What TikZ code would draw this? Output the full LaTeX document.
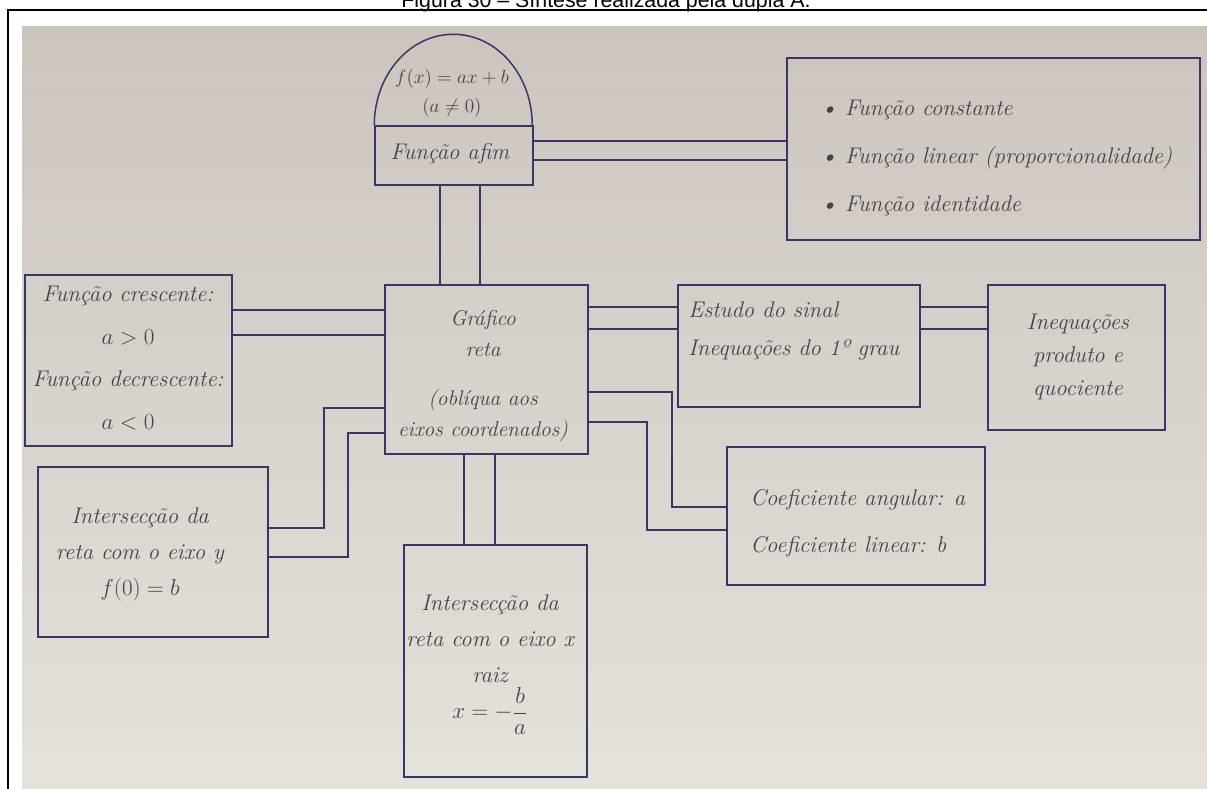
\documentclass[tikz,border=0pt]{standalone}
\usepackage{fontspec}
\newfontfamily\captionfont{Liberation Sans}
\usetikzlibrary{calc}
\definecolor{ink}{RGB}{58,52,104}
\definecolor{pencil}{RGB}{70,64,80}
\definecolor{paper_top}{RGB}{203,197,190}
\definecolor{paper_bottom}{RGB}{229,226,219}
\tikzset{
  box/.style={draw=ink,line width=1.1pt,rectangle,inner sep=0pt},
  sized/.style 2 args={minimum width=#1*0.75pt,minimum height=#2*0.75pt},
  link/.style={draw=ink,line width=1.1pt},
  hand/.style={text=pencil,inner sep=0pt,align=center,font=\fontsize{17}{#1}\selectfont\itshape},
  frame/.style={draw=black,line width=1.5pt},
}

\begin{document}
\begin{tikzpicture}[x=0.75pt,y=-0.75pt]
  \useasboundingbox (0,0) rectangle (1207,789);
  % photo of the sheet
  \shade[top color=paper_top,bottom color=paper_bottom] (22,26) rectangle (1207,789);
  \draw[frame] (8,789) -- (8,10) -- (1207,10);
  \node[anchor=base,inner sep=0pt,font=\captionfont\fontsize{16}{18}\selectfont] (caption) at (606,7) {Figura 30 – Síntese realizada pela dupla A.};

  % boxes
  \node[box,sized={158}{59}] (box_afim) at (454,155.5) {};
  \node[box,sized={413}{182}] (box_tipos) at (993.5,149) {};
  \node[box,sized={207}{171}] (box_cresc) at (128.5,360.5) {};
  \node[box,sized={203}{169}] (box_grafico) at (486.5,369.5) {};
  \node[box,sized={242}{122}] (box_sinal) at (799,346) {};
  \node[box,sized={177}{145}] (box_produto) at (1076.5,357.5) {};
  \node[box,sized={230}{170}] (box_eixoy) at (153,552) {};
  \node[box,sized={183}{232}] (box_eixox) at (495.5,661) {};
  \node[box,sized={258}{138}] (box_coef) at (856,516) {};
  \draw[link] (box_afim.north west) arc[start angle=180,end angle=0,x radius=59.25pt,y radius=68.25pt];

  % texts
  \node[hand=22pt,font=\fontsize{14}{22}\selectfont] (txt_dome) at (452,93) {$f(x)=ax+b$\\$(a\neq 0)$};
  \node[hand=20pt] (txt_afim) at (450,154) {Função afim};
  \node[hand=36pt,align=left,anchor=west] (txt_tipos) at (820,158) {\textbullet\ Função constante\\\textbullet\ Função linear (proporcionalidade)\\\textbullet\ Função identidade};
  \node[hand=32pt] (txt_cresc) at (128,358) {Função crescente:\\$a>0$\\Função decrescente:\\$a<0$};
  \node[hand=23pt,font=\fontsize{16}{23}\selectfont\itshape] (txt_grafico) at (483,376) {Gráfico\\reta\\[14pt](oblíqua aos\\eixos coordenados)};
  \node[hand=28pt,align=left,anchor=west] (txt_sinal) at (688,331) {Estudo do sinal\\Inequações do 1º grau};
  \node[hand=25pt] (txt_produto) at (1078,357) {Inequações\\produto e\\quociente};
  \node[hand=27pt] (txt_eixoy) at (140,554) {Intersecção da\\reta com o eixo y\\$f(0)=b$};
  \node[hand=27pt] (txt_eixox) at (490,665) {Intersecção da\\reta com o eixo x\\raiz\\$x=-\displaystyle\frac{b}{a}$};
  \node[hand=35pt,align=left,anchor=west] (txt_coef) at (750,523) {Coeficiente angular: a\\Coeficiente linear: b};

  % double connectors
  \foreach \y in {141,160}
    \draw[link] (box_afim.east |- 0,\y) -- (box_tipos.west |- 0,\y);
  \foreach \x in {440,480}
    \draw[link] (box_afim.south -| \x,0) -- (box_grafico.north -| \x,0);
  \foreach \y in {310,335}
    \draw[link] (box_cresc.east |- 0,\y) -- (box_grafico.west |- 0,\y);
  \foreach \y in {307,329} {
    \draw[link] (box_grafico.east |- 0,\y) -- (box_sinal.west |- 0,\y);
    \draw[link] (box_sinal.east |- 0,\y) -- (box_produto.west |- 0,\y);
  }
  \foreach \x in {464,495}
    \draw[link] (box_grafico.south -| \x,0) -- (box_eixox.north -| \x,0);
  \foreach \ya/\xb/\yb in {408/324/528, 433/348/557}
    \draw[link] (box_grafico.west |- 0,\ya) -| (\xb,\yb) -- (box_eixoy.east |- 0,\yb);
  \foreach \ya/\xb/\yb in {392/672/507, 422/647/530}
    \draw[link] (box_grafico.east |- 0,\ya) -| (\xb,\yb) -- (box_coef.west |- 0,\yb);
\end{tikzpicture}
\end{document}
